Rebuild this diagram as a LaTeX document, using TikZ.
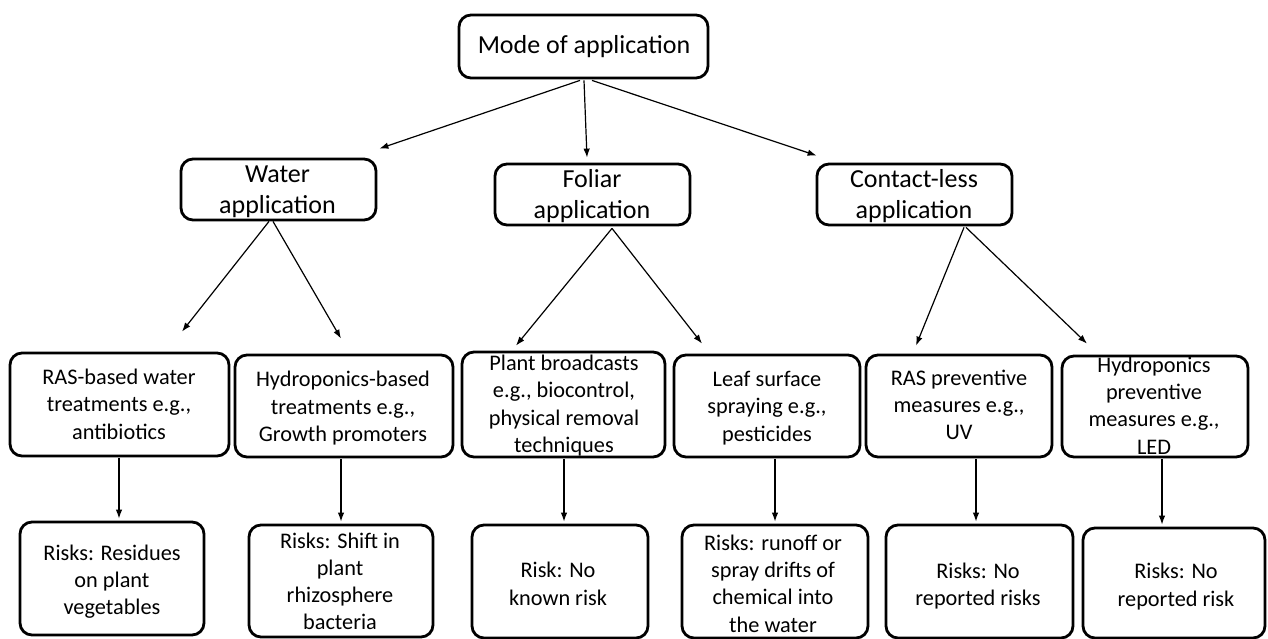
\documentclass[tikz,border=0pt]{standalone}
\usepackage{fontspec}
\setmainfont{Carlito}
\usetikzlibrary{arrows.meta,calc}
\begin{document}
\begin{tikzpicture}[x=1pt,y=-1pt,
  box/.style={draw, line width=2.8pt, rounded corners=12pt, inner sep=0pt},
  big/.style={font=\fontsize{26}{30.5}\selectfont, align=center, inner sep=0pt},
  small/.style={font=\fontsize{22.3}{27.3}\selectfont, align=center, inner sep=0pt},
  arr/.style={-{Latex[length=9pt,width=6.5pt]}, line width=1.2pt}]
\useasboundingbox (0,0) rectangle (1268,639);

% boxes
\node[box, minimum width=249pt, minimum height=63pt] (top) at (583.5,46.5) {};
\node[box, minimum width=195pt, minimum height=61pt] (water) at (278.5,189.5) {};
\node[box, minimum width=195pt, minimum height=61pt] (foliar) at (592.5,194.5) {};
\node[box, minimum width=195pt, minimum height=61pt] (contact) at (914.5,194.5) {};

\node[box, minimum width=219pt, minimum height=103pt] (m1) at (119.5,404.5) {};
\node[box, minimum width=218pt, minimum height=102pt] (m2) at (344,406) {};
\node[box, minimum width=203pt, minimum height=105pt] (m3) at (563.5,404.5) {};
\node[box, minimum width=186pt, minimum height=102pt] (m4) at (767,406) {};
\node[box, minimum width=186pt, minimum height=102pt] (m5) at (959,406) {};
\node[box, minimum width=186pt, minimum height=101pt] (m6) at (1155,406.5) {};

\node[box, minimum width=184pt, minimum height=113pt] (b1) at (112,578.5) {};
\node[box, minimum width=184pt, minimum height=112pt] (b2) at (341,581) {};
\node[box, minimum width=176pt, minimum height=113pt] (b3) at (560,581.5) {};
\node[box, minimum width=186pt, minimum height=113pt] (b4) at (775,581.5) {};
\node[box, minimum width=187pt, minimum height=113pt] (b5) at (979.5,581.5) {};
\node[box, minimum width=182pt, minimum height=110pt] (b6) at (1174,583) {};

% texts
\node[big] (ttop) at (584,46.5) {Mode of application};
\node[big] (twater) at (277.5,191.7) {Water\\application};
\node[big] (tfoliar) at (592,196.3) {Foliar\\application};
\node[big] (tcontact) at (914,196.3) {Contact-less\\application};

\node[small] (tm1) at (119,404.2) {RAS-based water\\treatments e.g.,\\antibiotics};
\node[small] (tm2) at (343,408.3) {Hydroponics-based\\treatments e.g.,\\Growth promoters};
\node[small] (tm3) at (564,405.5) {Plant broadcasts\\e.g., biocontrol,\\physical removal\\techniques};
\node[small] (tm4) at (767,408) {Leaf surface\\spraying e.g.,\\pesticides};
\node[small] (tm5) at (959,405) {RAS preventive\\measures e.g.,\\UV};
\node[small] (tm6) at (1154,405.5) {Hydroponics\\preventive\\measures e.g.,\\LED};

\node[small] (tb1) at (112,581.8) {Risks: Residues\\on plant\\vegetables};
\node[small] (tb2) at (340,581.3) {Risks: Shift in\\plant\\rhizosphere\\bacteria};
\node[small] (tb3) at (558,583.8) {Risk: No\\known risk};
\node[small] (tb4) at (773,583.5) {Risks: runoff or\\spray drifts of\\chemical into\\the water};
\node[small] (tb5) at (978,586.3) {Risks: No\\reported risks};
\node[small] (tb6) at (1176,586.5) {Risks: No\\reported risk};

% connectors level 0 -> 1
\draw[arr] ($(top.south)+(-3.5,1)$) -- ($(water.north east)+(2,-9)$);
\draw[arr] ($(top.south)+(0.5,1)$) -- ($(foliar.north)+(-5.5,-5)$);
\draw[arr] ($(top.south)+(8.5,1)$) -- ($(contact.north west)+(1,-7)$);

% level 1 -> 2
\draw[arr] ($(water.south)+(-9.5,0)$) -- ($(m1.north)+(62.5,-20)$);
\draw[arr] ($(water.south)+(-5.5,0)$) -- ($(m2.north)+(-3,-15)$);
\draw[arr] ($(foliar.south)+(19.5,2)$) -- ($(m3.north)+(-47.5,-5)$);
\draw[arr] ($(foliar.south)+(19.5,2)$) -- ($(m4.north)+(-65,-10)$);
\draw[arr] ($(contact.south)+(49.5,1)$) -- ($(m5.north)+(-43,-8)$);
\draw[arr] ($(contact.south)+(51.5,1)$) -- ($(m6.north)+(-68,-11)$);

% level 2 -> 3
\draw[arr] ($(m1.south)+(-0.5,1)$) -- ($(b1.north)+(7,-2)$);
\draw[arr] ($(m2.south)+(-3,1)$) -- ($(b2.north)+(0,-2)$);
\draw[arr] ($(m3.south)+(0.5,1)$) -- ($(b3.north)+(4,-2)$);
\draw[arr] ($(m4.south)+(8,1)$) -- ($(b4.north)+(0,-2)$);
\draw[arr] ($(m5.south)+(17,1)$) -- ($(b5.north)+(-3.5,-2)$);
\draw[arr] ($(m6.south)+(7,1)$) -- ($(b6.north)+(-12,-2)$);
\end{tikzpicture}
\end{document}
